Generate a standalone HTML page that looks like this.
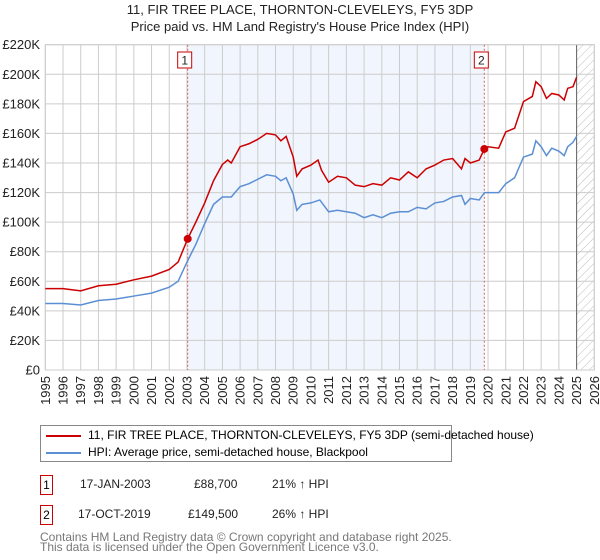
<!DOCTYPE html>
<html><head><meta charset="utf-8"><style>
body{margin:0;background:#fff;font-family:"Liberation Sans","DejaVu Sans",sans-serif;}
#wrap{position:relative;width:600px;height:560px;overflow:hidden;}
.t{position:absolute;left:0;width:600px;text-align:center;font-size:13px;color:#222;}
.leg{position:absolute;left:40px;top:425px;width:410px;height:35px;border:1px solid #888;font-size:12px;white-space:nowrap;}
.row{position:absolute;font-size:12px;color:#222;white-space:nowrap;}
.box{position:absolute;left:40px;width:11px;height:18px;border:1px solid #c00;font-size:12px;text-align:center;line-height:18px;}
.foot{position:absolute;left:40px;font-size:12px;color:#777;line-height:10px;white-space:nowrap;}
</style></head><body><div id="wrap">
<div class="t" style="top:2px">11, FIR TREE PLACE, THORNTON-CLEVELEYS, FY5 3DP</div>
<div class="t" style="top:19px">Price paid vs. HM Land Registry's House Price Index (HPI)</div>
<svg id="chart" width="600" height="420" style="position:absolute;left:0;top:0"></svg>
<div class="leg">
 <div style="position:absolute;left:5px;top:9px;width:35px;height:2px;background:#cc0000"></div>
 <div style="position:absolute;left:47px;top:2px">11, FIR TREE PLACE, THORNTON-CLEVELEYS, FY5 3DP (semi-detached house)</div>
 <div style="position:absolute;left:5px;top:26px;width:35px;height:2px;background:#5b8fd4"></div>
 <div style="position:absolute;left:47px;top:19px">HPI: Average price, semi-detached house, Blackpool</div>
</div>
<div class="box" style="top:475px">1</div>
<div class="row" style="left:80px;top:477px">17-JAN-2003</div>
<div class="row" style="left:194px;top:477px">£88,700</div>
<div class="row" style="left:272px;top:477px">21% ↑ HPI</div>
<div class="box" style="top:505px">2</div>
<div class="row" style="left:78px;top:507px">17-OCT-2019</div>
<div class="row" style="left:188px;top:507px">£149,500</div>
<div class="row" style="left:272px;top:507px">26% ↑ HPI</div>
<div class="foot" style="top:532px">Contains HM Land Registry data © Crown copyright and database right 2025.<br>This data is licensed under the Open Government Licence v3.0.</div>
</div>
<script>
const yearTicks=[1995,1996,1997,1998,1999,2000,2001,2002,2003,2004,2005,2006,2007,2008,2009,2010,2011,2012,2013,2014,2015,2016,2017,2018,2019,2020,2021,2022,2023,2024,2025,2026];
const valueTicks=[0,20000,40000,60000,80000,100000,120000,140000,160000,180000,200000,220000];
const valueLabels=["£0","£20K","£40K","£60K","£80K","£100K","£120K","£140K","£160K","£180K","£200K","£220K"];
const hpiDates=[1995,1996,1997,1998,1999,2000,2001,2002,2002.5,2003,2003.5,2004,2004.5,2005,2005.5,2006,2006.5,2007,2007.5,2008,2008.3,2008.6,2009,2009.2,2009.5,2010,2010.5,2011,2011.5,2012,2012.5,2013,2013.5,2014,2014.5,2015,2015.5,2016,2016.5,2017,2017.5,2018,2018.5,2018.7,2019,2019.5,2019.8,2020,2020.6,2021,2021.5,2022,2022.5,2022.7,2023,2023.3,2023.6,2024,2024.3,2024.5,2024.8,2025];
const hpiValues=[45,45,44,47,48,50,52,56,60,73,85,99,112,117,117,124,126,129,132,131,128,130,119,108,112,113,115,107,108,107,106,103,105,103,106,107,107,110,109,113,114,117,118,112,116,115,120,120,120,126,130,144,146,155,151,145,150,148,145,151,154,158];
const priceDates=[1995,1996,1997,1998,1999,2000,2001,2002,2002.5,2003.04,2003.5,2004,2004.5,2005,2005.3,2005.5,2006,2006.5,2007,2007.5,2008,2008.3,2008.6,2009,2009.2,2009.5,2010,2010.4,2010.6,2011,2011.5,2012,2012.5,2013,2013.5,2014,2014.5,2015,2015.5,2016,2016.5,2017,2017.5,2018,2018.5,2018.7,2019,2019.5,2019.79,2020,2020.6,2021,2021.5,2022,2022.5,2022.7,2023,2023.3,2023.6,2024,2024.3,2024.5,2024.8,2025];
const priceValues=[55,55,53.5,57,58,61,63.5,68,73,88.7,100,113,128,139,142,140,151,153,156,160,159,155,158,144,131,136,138.6,142,135,127,131,130,125,124,126,125,130,128.5,134,130,136,138.6,142,143,136,143,140,142,149.5,151,150,161,163.5,181.5,185,195,191.6,183.7,187,186,182.6,190.5,191.6,198];
const saleDates=[2003.04,2019.79];
const salePrices=[88700,149500];
const saleLabels=["1","2"];
const forecastStart=2025;

const NS="http://www.w3.org/2000/svg",svg=document.getElementById('chart');
const X0=45.3,X1=594.3,Y0=370,Y1=44.7;
const xs=d=>X0+(d-1995)/(2026-1995)*(X1-X0);
const ys=v=>Y0-v/220000*(Y0-Y1);
function mk(t,a,p){const e=document.createElementNS(NS,t);for(const k in a)e.setAttribute(k,a[k]);(p||svg).appendChild(e);return e;}
const defs=mk('defs',{});
const pat=mk('pattern',{id:'hatch',width:6,height:6,patternUnits:'userSpaceOnUse',patternTransform:'rotate(45)'},defs);
mk('line',{x1:0,y1:0,x2:0,y2:6,stroke:'#bbb','stroke-width':1},pat);
const band=mk('rect',{x:xs(saleDates[0]),y:Y1,width:xs(saleDates[1])-xs(saleDates[0]),height:Y0-Y1,fill:'#f1f5fd'});


const hz=mk('rect',{x:xs(forecastStart),y:Y1,width:X1-xs(forecastStart),height:Y0-Y1,fill:'url(#hatch)'});


yearTicks.forEach(y=>{const l=mk('line',{x1:xs(y),x2:xs(y),y1:Y1,y2:Y0,stroke:'#ccc'});


const t=mk('text',{x:0,y:0,transform:`translate(${xs(y)+4.5},${Y0+6}) rotate(-90)`,'text-anchor':'end','font-size':13,fill:'#222'});t.textContent=y;

});
valueTicks.forEach((v,i)=>{const l=mk('line',{x1:X0,x2:X1,y1:ys(v),y2:ys(v),stroke:'#ccc'});


const t=mk('text',{x:40,y:ys(v)+4.5,'text-anchor':'end','font-size':13,fill:'#222'});t.textContent=valueLabels[i];

});
const fl=mk('line',{x1:xs(forecastStart),x2:xs(forecastStart),y1:Y1,y2:Y0,stroke:'#666','stroke-width':1});


const fr=mk('rect',{x:X0,y:Y1,width:X1-X0,height:Y0-Y1,fill:'none',stroke:'#ccc'});


saleDates.forEach((d,i)=>{const l=mk('line',{x1:xs(d),x2:xs(d),y1:Y1,y2:Y0,stroke:'#e06060','stroke-dasharray':'2,2'});


const bx=xs(d)-10;const r=mk('rect',{x:bx,y:52,width:14,height:16,fill:'#fff',stroke:'#c00'});


const t=mk('text',{x:bx+7,y:64.5,'text-anchor':'middle','font-size':12,fill:'#222'});t.textContent=saleLabels[i];

});
const hp=mk('polyline',{points:hpiDates.map((d,i)=>xs(d)+','+ys(hpiValues[i]*1000)).join(' '),fill:'none',stroke:'#5b8fd4','stroke-width':1.5});


const pp=mk('polyline',{points:priceDates.map((d,i)=>xs(d)+','+ys(priceValues[i]*1000)).join(' '),fill:'none',stroke:'#cc0000','stroke-width':1.5});


saleDates.forEach((d,i)=>{const c=mk('circle',{cx:xs(d),cy:ys(salePrices[i]),r:4,fill:'#cc0000'});

});
</script></body></html>
